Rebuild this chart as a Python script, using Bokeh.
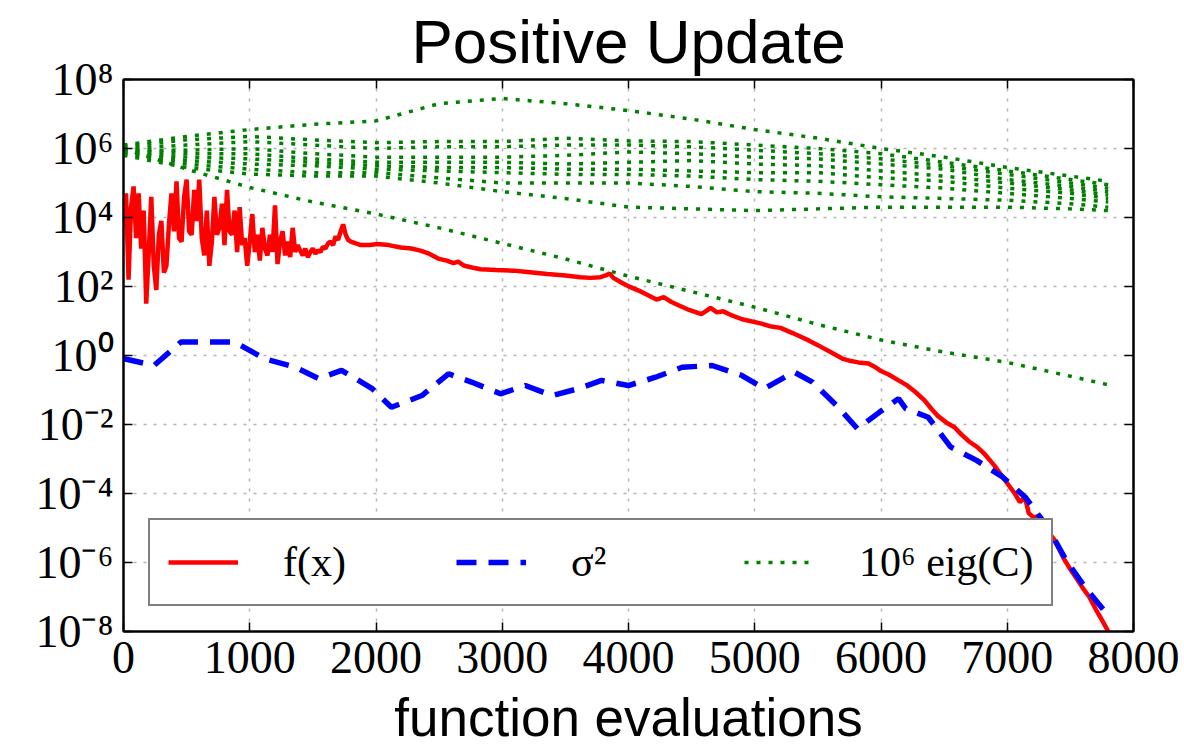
from bokeh.plotting import figure
from bokeh.models import (Range1d, FixedTicker, LinearAxis, LogAxis,
                          CustomJSTickFormatter)
from bokeh.embed import file_html
from bokeh.resources import INLINE

# ---------------- data ----------------
x_ticks = [0, 1000, 2000, 3000, 4000, 5000, 6000, 7000, 8000]
x_tick_labels = ["0", "1000", "2000", "3000", "4000", "5000", "6000", "7000", "8000"]
y_ticks = [1e-8, 1e-6, 1e-4, 1e-2, 1e0, 1e2, 1e4, 1e6, 1e8]
y_tick_labels = ["10⁻⁸", "10⁻⁶", "10⁻⁴", "10⁻²", "10⁰", "10²", "10⁴", "10⁶", "10⁸"]

title_text = "Positive Update"
x_label = "function evaluations"
series_labels = ["f(x)", "σ²", "10⁶ eig(C)"]

# f(x): evaluations and log10 of the value
fx_evals = [0, 20, 40, 60, 80, 100, 120, 140, 160, 180, 200, 220, 240, 260, 280,
            300, 320, 340, 360, 380, 400, 420, 440, 460, 480, 500, 520, 540, 560,
            580, 600, 620, 640, 660, 680, 700, 720, 740, 760, 780, 800, 820, 840,
            860, 880, 900, 920, 940, 960, 980, 1000, 1020, 1040, 1060, 1080, 1100,
            1120, 1140, 1160, 1180, 1200, 1220, 1240, 1260, 1280, 1300, 1320, 1340,
            1360, 1380, 1400, 1420, 1440, 1460, 1480, 1500, 1520, 1540, 1560, 1580,
            1600, 1620, 1640, 1660, 1680, 1700, 1720, 1740, 1760, 1780, 1800, 1840,
            1880, 1950, 2011, 2100, 2196, 2280, 2352, 2420, 2500, 2560, 2614, 2650,
            2700, 2760, 2828, 2950, 3089, 3200, 3356, 3500, 3620, 3700, 3778, 3820,
            3850, 3880, 3950, 4016, 4100, 4222, 4279, 4340, 4400, 4480, 4577, 4620,
            4650, 4700, 4750, 4808, 4900, 5046, 5120, 5204, 5300, 5360, 5431, 5500,
            5550, 5600, 5650, 5700, 5750, 5820, 5901, 5960, 6000, 6060, 6139, 6200,
            6270, 6345, 6400, 6450, 6520, 6582, 6640, 6700, 6760, 6817, 6900, 6960,
            7023, 7060, 7100, 7140, 7170, 7210, 7250, 7300, 7375, 7450, 7500, 7556,
            7600, 7650, 7700, 7763, 7800]
fx_log10 = [3.7, 4.7, 2.2, 4.3, 4.9, 3.4, 4.7, 3.1, 4.2, 1.5, 3.0, 4.6, 2.6, 1.9, 3.5,
            3.9, 2.4, 2.6, 3.8, 4.7, 3.6, 5.05, 3.4, 3.3, 4.6, 5.1, 3.6, 3.5, 4.8,
            3.9, 5.1, 3.4, 2.9, 4.2, 2.6, 3.3, 4.6, 3.5, 3.7, 4.4, 3.2, 4.8, 3.6,
            3.5, 4.2, 3.0, 4.3, 3.2, 3.4, 2.6, 3.3, 4.1, 3.0, 3.5, 2.75, 3.7,
            3.1, 2.9, 3.5, 3.0, 4.35, 2.65, 3.3, 3.6, 2.9, 3.3, 2.85, 3.7,
            3.0, 3.2, 3.04, 2.9, 3.1, 2.85, 3.0, 3.1, 2.95, 3.05, 3.0, 3.15,
            3.1, 3.25, 3.3, 3.2, 3.45, 3.35, 3.6, 3.8, 3.5, 3.35, 3.3, 3.25,
            3.2, 3.2, 3.23, 3.2, 3.13, 3.1, 3.04, 2.95, 2.8, 2.75, 2.68, 2.72,
            2.6, 2.55, 2.5, 2.48, 2.46, 2.42, 2.36, 2.32, 2.27, 2.25, 2.27, 2.32,
            2.38, 2.25, 2.1, 1.98, 1.85, 1.62, 1.69, 1.55, 1.45, 1.32, 1.2, 1.3,
            1.38, 1.25, 1.28, 1.18, 1.05, 0.93, 0.85, 0.8, 0.65, 0.55, 0.43, 0.3,
            0.2, 0.1, 0.0, -0.1, -0.15, -0.2, -0.23, -0.35, -0.45, -0.55, -0.72, -0.85,
            -1.05, -1.3, -1.55, -1.75, -1.95, -2.08, -2.3, -2.5, -2.65, -2.84, -3.2, -3.5,
            -3.82, -4.0, -4.25, -4.1, -4.57, -4.7, -4.65, -5.0, -5.35, -5.9, -6.2, -6.5,
            -6.75, -7.0, -7.35, -7.75, -8.0]

# sigma^2
sigma_evals = [0, 15, 242, 455, 665, 880, 1122, 1363, 1545, 1727, 1970, 2122, 2364,
               2574, 2756, 2986, 3183, 3395, 3604, 3786, 3999, 4214, 4425, 4663,
               4899, 5077, 5312, 5457, 5662, 5813, 5989, 6139, 6196, 6374, 6551,
               6757, 6963, 7141, 7319, 7466, 7612, 7775]
sigma_log10 = [-0.1, -0.1, -0.29, 0.39, 0.39, 0.39, -0.1, -0.34, -0.67, -0.43, -0.96,
               -1.5, -1.16, -0.53, -0.77, -1.11, -0.87, -1.16, -0.96, -0.72, -0.87,
               -0.63, -0.34, -0.29, -0.58, -0.96, -0.48, -0.77, -1.5, -2.12, -1.64,
               -1.25, -1.54, -1.79, -2.65, -3.04, -3.52, -4.1, -4.97, -5.93, -6.7,
               -7.43]

# 1e6 * eigenvalues of C (log10)
eig_evals = [0, 500, 1000, 1500, 2000, 2500, 3000, 3500, 4000, 4500, 5000, 5500,
             6000, 6500, 7000, 7500, 7800]
eig1_log10 = [6.1, 6.35, 6.55, 6.7, 6.8, 7.3, 7.45, 7.3, 7.1, 6.85, 6.55, 6.3, 6.0, 5.75, 5.45, 5.2, 5.05]
eig2_log10 = [6.05, 6.25, 6.35, 6.25, 6.17, 6.2, 6.2, 6.3, 6.22, 6.2, 6.1, 6.0, 5.85, 5.6, 5.35, 5.1, 4.95]
eig3_log10 = [6.0, 6.1, 6.2, 6.1, 6.0, 6.05, 6.05, 6.1, 6.1, 6.05, 5.95, 5.85, 5.7, 5.5, 5.25, 5.0, 4.85]
eig4_log10 = [5.95, 5.95, 6.0, 5.85, 5.75, 5.75, 5.75, 5.8, 5.9, 5.85, 5.75, 5.7, 5.55, 5.4, 5.1, 4.9, 4.75]
eig5_log10 = [5.95, 5.85, 5.85, 5.7, 5.6, 5.6, 5.6, 5.55, 5.6, 5.65, 5.55, 5.5, 5.35, 5.2, 5.0, 4.8, 4.65]
eig6_log10 = [5.9, 5.75, 5.7, 5.6, 5.5, 5.45, 5.45, 5.4, 5.4, 5.35, 5.3, 5.3, 5.15, 5.05, 4.85, 4.7, 4.55]
eig7_log10 = [5.9, 5.65, 5.55, 5.5, 5.4, 5.35, 5.3, 5.25, 5.25, 5.2, 5.1, 5.05, 4.95, 4.85, 4.7, 4.55, 4.45]
eig8_log10 = [5.85, 5.55, 5.4, 5.3, 5.3, 5.15, 5.0, 5.0, 5.0, 4.9, 4.75, 4.7, 4.6, 4.55, 4.5, 4.4, 4.3]
eig9_log10 = [5.8, 5.45, 5.26, 5.2, 5.2, 5.0, 4.75, 4.55, 4.3, 4.25, 4.2, 4.25, 4.3, 4.3, 4.3, 4.25, 4.2]
eig10_log10 = [6.0, 5.4, 4.87, 4.45, 4.1, 3.7, 3.25, 2.8, 2.3, 1.85, 1.4, 0.9, 0.45, 0.1, -0.2, -0.6, -0.85]

eig_all = [eig1_log10, eig2_log10, eig3_log10, eig4_log10, eig5_log10,
           eig6_log10, eig7_log10, eig8_log10, eig9_log10, eig10_log10]

# ---------------- figure ----------------
SERIF = "Liberation Serif"
SANS = "Liberation Sans"

p = figure(width=1184, height=749, output_backend="svg", toolbar_location=None,
           y_axis_type="log", x_range=Range1d(0, 8000), y_range=Range1d(1e-8, 1e8),
           min_border_left=123, min_border_right=51, min_border_bottom=118,
           min_border_top=10, background_fill_color="white",
           border_fill_color="white")

p.title.text = title_text
p.title.align = "center"
p.title.text_font = SANS
p.title.text_font_size = "62px"
p.title.text_font_style = "normal"
p.title.text_color = "black"
p.title.standoff = 8

p.outline_line_color = "black"
p.outline_line_width = 2

xfmt = CustomJSTickFormatter(args=dict(vals=x_ticks, labs=x_tick_labels), code="""
for (let i = 0; i < vals.length; i++) { if (Math.abs(vals[i] - tick) < 1e-6) return labs[i]; }
return '';
""")
yfmt = CustomJSTickFormatter(args=dict(vals=y_ticks, labs=y_tick_labels), code="""
let best = -1, bd = 1e9;
for (let i = 0; i < vals.length; i++) {
  const d = Math.abs(Math.log10(vals[i]) - Math.log10(tick));
  if (d < bd) { bd = d; best = i; }
}
return bd < 1e-3 ? labs[best] : '';
""")
blank = CustomJSTickFormatter(code="return '';")

def style_axis(ax):
    ax.axis_line_color = "black"
    ax.axis_line_width = 2
    ax.major_tick_in = 9
    ax.major_tick_out = 0
    ax.major_tick_line_color = "black"
    ax.major_tick_line_width = 1.5
    ax.minor_tick_line_color = None
    ax.major_label_text_font = SERIF
    ax.major_label_text_font_size = "46px"
    ax.major_label_text_color = "black"

xa = p.xaxis[0]
xa.ticker = FixedTicker(ticks=x_ticks)
xa.formatter = xfmt
style_axis(xa)
xa.major_label_standoff = 10
xa.axis_label = x_label
xa.axis_label_text_font = SANS
xa.axis_label_text_font_size = "53px"
xa.axis_label_text_font_style = "normal"
xa.axis_label_text_color = "black"
xa.axis_label_standoff = 12

ya = p.yaxis[0]
ya.ticker = FixedTicker(ticks=y_ticks)
ya.formatter = yfmt
style_axis(ya)
ya.major_label_standoff = 10

top_ax = LinearAxis(ticker=FixedTicker(ticks=x_ticks), formatter=blank)
style_axis(top_ax)
top_ax.major_label_standoff = 0
top_ax.major_label_text_font_size = "1px"
p.add_layout(top_ax, "above")

right_ax = LogAxis(ticker=FixedTicker(ticks=y_ticks), formatter=blank)
style_axis(right_ax)
right_ax.major_label_standoff = 0
right_ax.major_label_text_font_size = "1px"
p.add_layout(right_ax, "right")

for g in (p.xgrid[0], p.ygrid[0]):
    g.grid_line_color = "#b4b4b4"
    g.grid_line_width = 1.5
    g.grid_line_dash = "3 7"
p.xgrid[0].ticker = FixedTicker(ticks=x_ticks)
p.ygrid[0].ticker = FixedTicker(ticks=y_ticks)

# ---------------- series ----------------
p.line(fx_evals, [10 ** v for v in fx_log10], line_color="red", line_width=4.5,
       legend_label=series_labels[0])
p.line(sigma_evals, [10 ** v for v in sigma_log10], line_color="blue", line_width=5.5,
       line_dash="20 12", legend_label=series_labels[1])
p.multi_line([eig_evals] * len(eig_all), [[10 ** v for v in s] for s in eig_all],
             line_color="green", line_width=3.5, line_dash="4 8",
             legend_label=series_labels[2])

lg = p.legend[0]
lg.location = "bottom_left"
lg.orientation = "horizontal"
lg.margin = 25
lg.padding = 18
lg.spacing = 43
lg.glyph_width = 70
lg.glyph_height = 40
lg.label_standoff = 45
lg.label_width = 130
lg.label_text_font = SERIF
lg.label_text_font_size = "42px"
lg.label_text_color = "black"
lg.border_line_color = "black"
lg.border_line_width = 2
lg.background_fill_color = "white"
lg.background_fill_alpha = 1.0

open("out.html", "w").write(file_html(p, INLINE))
